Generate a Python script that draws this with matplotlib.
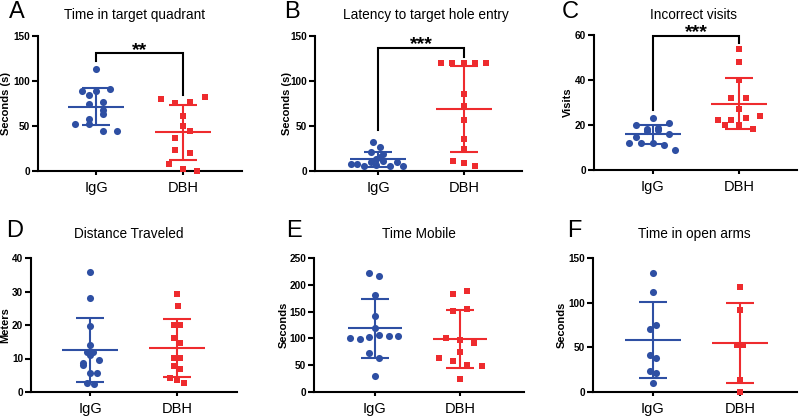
import matplotlib
matplotlib.use('Agg')
import matplotlib.pyplot as plt
import numpy as np

plt.rcParams['font.family'] = ['Liberation Sans', 'DejaVu Sans']

# ---------------- data ----------------
groups = ['IgG', 'DBH']

# A: Time in target quadrant (s)
a_igg = [113.3, 89.3, 89.3, 90.7, 84.4, 76.7, 74.0, 67.8, 63.0, 57.8, 51.9, 52.6, 44.8, 44.4]
a_igg_jit = [0, -0.165, 0.0, 0.165, -0.077, 0.084, -0.077, 0.084, 0.084, -0.077, -0.084, -0.245, 0.084, 0.245]
a_dbh = [80.0, 75.2, 77.0, 81.9, 61.5, 50.0, 44.4, 37.0, 23.3, 19.6, 7.4, 1.9, 0.0]
a_dbh_jit = [-0.25, -0.09, 0.08, 0.25, 0, 0, 0.08, -0.09, -0.09, 0.08, -0.165, 0, 0.165]

# B: Latency to target hole entry (s)
b_igg = [31.9, 26.3, 20.8, 18.5, 15.2, 13.0, 11.1, 9.7, 7.4, 7.4, 5.6, 6.7, 5.6, 9.7, 5.6]
b_igg_jit = [-0.055, 0.027, -0.085, 0.06, 0.027, -0.02, 0.06, -0.085, -0.31, -0.25, -0.16, -0.02, 0.14, 0.22, 0.29]
b_dbh = [120, 120, 120, 120, 120, 85.6, 72.2, 56.3, 35.9, 24.8, 11.1, 8.9, 5.9]
b_dbh_jit = [-0.27, -0.14, 0, 0.13, 0.255, 0, 0, 0, 0, 0, -0.13, 0, 0.13]

# C: Incorrect visits
c_igg = [23.0, 20.0, 21.0, 18.2, 17.2, 18.8, 17.6, 16.0, 14.5, 12.1, 11.8, 12.1, 11.1, 8.9]
c_igg_jit = [0, -0.2, 0.19, -0.07, -0.07, 0.06, 0.06, 0.19, -0.2, -0.28, -0.14, 0, 0.125, 0.26]
c_dbh = [53.8, 47.8, 40.1, 32.0, 32.0, 27.0, 22.1, 22.1, 23.0, 24.1, 20.1, 20.1, 18.1]
c_dbh_jit = [0, 0, 0, -0.09, 0.08, 0, -0.25, -0.09, 0.08, 0.24, -0.165, 0, 0.16]

# D: Distance traveled (m)
d_igg = [35.7, 28.2, 19.6, 14.0, 12.0, 11.8, 11.0, 9.55, 8.8, 8.0, 5.8, 5.8, 2.6, 2.4]
d_igg_jit = [0, 0, 0, 0, -0.04, 0.04, 0, 0.1, -0.08, -0.08, 0, 0.085, -0.03, 0.046]
d_dbh = [29.2, 25.8, 19.9, 19.9, 16.1, 14.7, 10.2, 10.2, 7.9, 6.8, 4.3, 3.5, 2.7]
d_dbh_jit = [0, 0.008, -0.04, 0.04, -0.04, 0.04, -0.04, 0.04, -0.04, 0.04, -0.077, 0, 0.077]

# E: Time mobile (s)
e_igg = [222.6, 216.4, 180.4, 142.0, 120.3, 101.0, 98.6, 102.4, 106.7, 104.8, 103.6, 72.0, 63.9, 29.2]
e_igg_jit = [-0.067, 0.05, 0, 0, 0, -0.29, -0.176, -0.067, 0.05, 0.16, 0.27, -0.067, 0.05, 0]
e_dbh = [183.6, 188.0, 151.4, 155.1, 100.5, 97.4, 91.2, 75.1, 63.9, 57.7, 50.9, 49.0, 23.6]
e_dbh_jit = [-0.078, 0.086, -0.078, 0.086, -0.16, 0, 0.17, 0, -0.25, -0.078, 0.086, 0.255, 0]

# F: Time in open arms (s)
f_igg = [133.2, 111.7, 70.0, 74.5, 41.0, 37.6, 23.1, 20.8, 10.0]
f_igg_jit = [0, 0, -0.04, 0.035, -0.04, 0.04, -0.04, 0.035, 0]
f_dbh = [117.6, 91.5, 52.8, 52.8, 13.4, 0.0]
f_dbh_jit = [0, 0, -0.035, 0.03, 0, 0]

titles = ['Time in target quadrant', 'Latency to target hole entry', 'Incorrect visits',
          'Distance Traveled', 'Time Mobile', 'Time in open arms']
letters = ['A', 'B', 'C', 'D', 'E', 'F']
ylabels = ['Seconds (s)', 'Seconds (s)', 'Visits', 'Meters', 'Seconds', 'Seconds']
yticks_list = [[0, 50, 100, 150], [0, 50, 100, 150], [0, 20, 40, 60],
               [0, 10, 20, 30, 40], [0, 50, 100, 150, 200, 250], [0, 50, 100, 150]]
sig_labels = ['**', '***', '***', None, None, None]
sig_levels = [(122, 130.7, 85), (45.5, 137, 127), (26.7, 59.7, 56.5), None, None, None]

series = [(a_igg, a_igg_jit, a_dbh, a_dbh_jit), (b_igg, b_igg_jit, b_dbh, b_dbh_jit),
          (c_igg, c_igg_jit, c_dbh, c_dbh_jit), (d_igg, d_igg_jit, d_dbh, d_dbh_jit),
          (e_igg, e_igg_jit, e_dbh, e_dbh_jit), (f_igg, f_igg_jit, f_dbh, f_dbh_jit)]

# ---------------- layout (pixels in an 800x417 canvas) ----------------
W, H = 800, 417
# left, right, top, bottom, x of IgG, x of DBH
boxes = [(38, 242, 36, 171, 96, 183), (315, 522, 36, 171, 378, 464), (594, 797, 35, 170, 653, 739),
         (31, 237, 258, 392, 90, 177), (314, 524, 258, 392, 375, 460), (593, 797, 258, 392, 653, 740)]
title_pos = [(134, 15), (426, 15), (694, 15), (129, 234), (419, 234), (694, 234)]
letter_pos = [(9, 12), (284, 12), (562, 12), (6, 231), (286, 231), (567, 231)]
ylabel_x = [6.5, 287, 567.5, 5.5, 284, 562]

BLUE = '#2E4FA3'
RED = '#EE2B2E'
LW = 1.5

fig = plt.figure(figsize=(8, 4.17), dpi=100)

for i in range(6):
    l, r, t, b, x0, x1 = boxes[i]
    ax = fig.add_axes([l / W, 1 - b / H, (r - l) / W, (b - t) / H])
    unit = x1 - x0
    ax.set_xlim((l - x0) / unit, (r - x0) / unit)
    yt = yticks_list[i]
    ax.set_ylim(yt[0], yt[-1])
    for s in ['top', 'right']:
        ax.spines[s].set_visible(False)
    for s in ['left', 'bottom']:
        ax.spines[s].set_linewidth(LW)
    ax.set_yticks(yt)
    ax.set_yticklabels([str(v) for v in yt], fontsize=7.2, fontweight='bold')
    ax.set_xticks([0, 1])
    ax.set_xticklabels(groups, fontsize=10.5)
    ax.tick_params(axis='y', length=4, width=LW, pad=1.5)
    ax.tick_params(axis='x', length=3, width=LW, pad=4)
    ax.set_ylabel(ylabels[i], fontsize=8, fontweight='bold')
    ax.yaxis.label.set_va('center')
    ax.yaxis.set_label_coords((ylabel_x[i] - l) / (r - l), 0.5)

    igg, igg_j, dbh, dbh_j = series[i]
    for k, (vals, jit, col, mk) in enumerate([(igg, igg_j, BLUE, 'o'), (dbh, dbh_j, RED, 's')]):
        vals = np.asarray(vals, dtype=float)
        xs = k + np.asarray(jit, dtype=float)
        ax.scatter(xs, vals, marker=mk, s=26 if mk == 'o' else 21, color=col,
                   linewidths=0, zorder=3, clip_on=False)
        m = vals.mean()
        sd = vals.std(ddof=1)
        kw = dict(color=col, lw=LW, zorder=4, clip_on=False, solid_capstyle='butt')
        ax.plot([k - 0.32, k + 0.32], [m, m], **kw)
        ax.plot([k, k], [m - sd, m + sd], **kw)
        ax.plot([k - 0.16, k + 0.16], [m + sd, m + sd], **kw)
        ax.plot([k - 0.16, k + 0.16], [m - sd, m - sd], **kw)

    if sig_labels[i]:
        lo, top, ro = sig_levels[i]
        ax.plot([0, 0, 1, 1], [lo, top, top, ro], color='black', lw=LW, clip_on=False,
                solid_joinstyle='miter', zorder=5)
        ax.annotate(sig_labels[i], xy=(0.5, top), xytext=(0, -1), textcoords='offset points',
                    ha='center', va='baseline', fontsize=14, fontweight='bold', annotation_clip=False)

    fig.text(title_pos[i][0] / W, 1 - title_pos[i][1] / H, titles[i], fontsize=9.8,
             ha='center', va='center')
    fig.text(letter_pos[i][0] / W, 1 - letter_pos[i][1] / H, letters[i], fontsize=17,
             ha='left', va='center')

fig.savefig('out.png', dpi=100)
